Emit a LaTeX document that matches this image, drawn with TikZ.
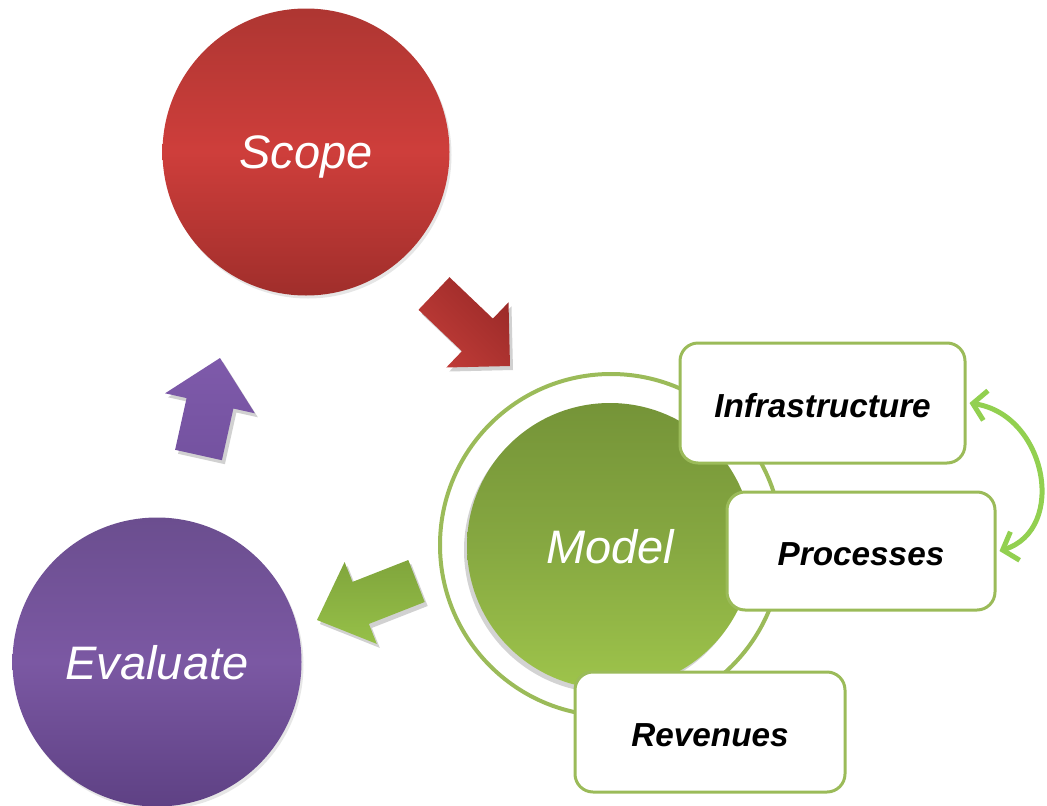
\documentclass[tikz,border=0pt]{standalone}
\usepackage{fontspec}
\setmainfont{Liberation Sans}
\usetikzlibrary{shadows,arrows.meta}
\definecolor{ringgreen}{HTML}{9BBB59}
\definecolor{arcgreen}{HTML}{92D050}
\tikzset{
  bigcircle/.style={circle, inner sep=0pt, minimum size=#1, text=white, text depth=0pt,
    font=\fontsize{47}{50}\selectfont\itshape},
  boxnode/.style={draw=ringgreen, line width=3pt, fill=white, rounded corners=18pt,
    inner sep=0pt, text height=29pt, text depth=0pt,
    font=\fontsize{33.3}{36}\selectfont\bfseries\itshape},
  arc/.style={draw=arcgreen, line width=5pt, line cap=round,
    {Straight Barb[length=13pt,width=30pt,line width=5pt]}-{Straight Barb[length=13pt,width=30pt,line width=5pt]}},
  ashadow/.style={fill=black, opacity=0.18},
}
\begin{document}
\begin{tikzpicture}[x=1pt,y=-1pt]
\useasboundingbox (0,0) rectangle (1047,806);
% big circles
\node[bigcircle=287pt, drop shadow={shadow xshift=2pt, shadow yshift=-3pt, opacity=0.2},
  shading=axis, top color={rgb,255:red,174;green,54;blue,50},
  bottom color={rgb,255:red,160;green,46;blue,43},
  middle color={rgb,255:red,206;green,62;blue,59}] (scope) at (306,152) {Scope};
\node[bigcircle=289pt, drop shadow={shadow xshift=2pt, shadow yshift=-3pt, opacity=0.2},
  shading=axis, top color={rgb,255:red,107;green,78;blue,143},
  bottom color={rgb,255:red,94;green,65;blue,132},
  middle color={rgb,255:red,123;green,88;blue,163}] (evaluate) at (157,662) {Evaluate};
% ring and model
\node[circle, draw=ringgreen, line width=4pt, minimum size=342pt, inner sep=0pt] (ring) at (611,545) {};
\node[bigcircle=286pt, drop shadow={shadow xshift=-3pt, shadow yshift=-4pt, opacity=0.35},
  shading=axis, top color={rgb,255:red,117;green,148;blue,56},
  bottom color={rgb,255:red,158;green,196;blue,75},
  middle color={rgb,255:red,134;green,168;blue,65}] (model) at (610,546) {Model};
% boxes
\node[boxnode, minimum width=285pt, minimum height=120pt] (infra) at (822.5,403) {Infrastructure};
\node[boxnode, minimum width=268pt, minimum height=118pt] (proc) at (861,551) {Processes};
\node[boxnode, minimum width=270pt, minimum height=120pt] (rev) at (710,732) {Revenues};
% curved double arrow
\draw[arc] ([xshift=3pt]infra.east) .. controls +(77,12) and +(68,-22) .. ([xshift=3pt]proc.east);
% block arrows
\fill[ashadow] (421.5,313.8) -- (464.9,355.2) -- (449.3,371.5) -- (513,370) -- (511.5,306.3) -- (495.9,322.6) -- (452.5,281.2) -- cycle;
\shade[top color={rgb,255:red,155;green,42;blue,40}, bottom color={rgb,255:red,192;green,60;blue,56}, shading angle=-45]
  (418.5,309.8) -- (461.9,351.2) -- (446.3,367.5) -- (510,366) -- (508.5,302.3) -- (492.9,318.6) -- (449.5,277.2) -- cycle;
\fill[ashadow] (178.1,453.8) -- (189.6,402.1) -- (168.1,397.3) -- (223,362) -- (257.9,417.3) -- (236.4,412.5) -- (224.9,464.2) -- cycle;
\shade[top color={rgb,255:red,126;green,90;blue,170}, bottom color={rgb,255:red,116;green,82;blue,160}]
  (175.1,449.8) -- (186.6,398.1) -- (165.1,393.3) -- (220,358) -- (254.9,413.3) -- (233.4,408.5) -- (221.9,460.2) -- cycle;
\fill[ashadow] (411.3,564) -- (355.5,585.9) -- (347.6,566) -- (320,624) -- (379.8,647.9) -- (371.9,627.9) -- (427.7,606) -- cycle;
\shade[top color={rgb,255:red,128;green,165;blue,60}, bottom color={rgb,255:red,150;green,192;blue,72}]
  (408.3,560) -- (352.5,581.9) -- (344.6,562) -- (317,620) -- (376.8,643.9) -- (368.9,623.9) -- (424.7,602) -- cycle;
\end{tikzpicture}
\end{document}
